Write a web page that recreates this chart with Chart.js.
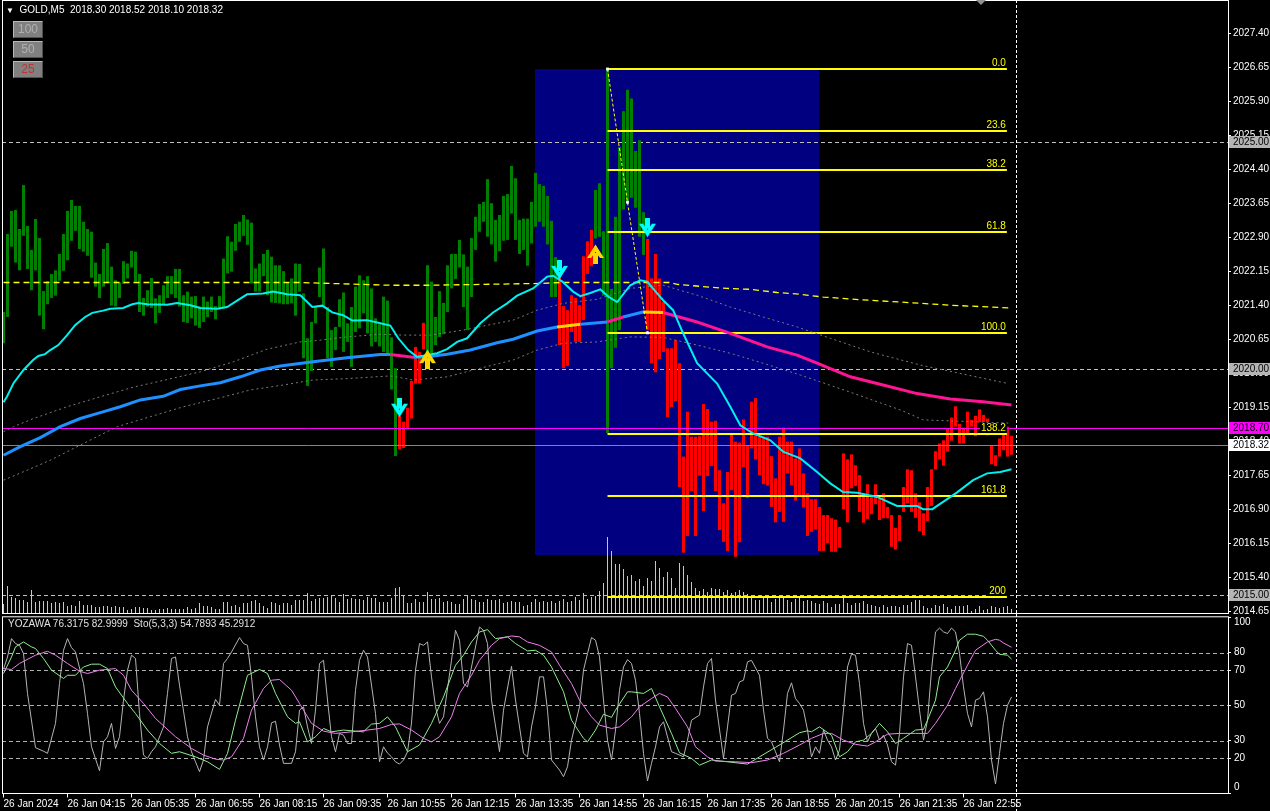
<!DOCTYPE html>
<html><head><meta charset="utf-8">
<script src="https://cdn.jsdelivr.net/npm/chart.js@4.4.1/dist/chart.umd.min.js"></script>
<style>
html,body{margin:0;padding:0;background:#000;}
body{width:1270px;height:811px;position:relative;overflow:hidden;font-family:"Liberation Sans",Arial,sans-serif;}
canvas{position:absolute;left:0;}
#main{top:0}
#sub{top:614px}
.hdr{position:absolute;left:6px;top:4px;color:#fff;font-size:10px;white-space:pre;line-height:12px;}
.btn{position:absolute;left:13px;width:28px;height:15px;background:#808080;border-top:1px solid #b8b8b8;border-left:1px solid #b8b8b8;border-right:1px solid #505050;border-bottom:1px solid #505050;font-size:12px;text-align:center;line-height:15px;color:#b0b0b0;}
.sublbl{position:absolute;left:8px;top:618px;color:#e0e0e0;font-size:10px;white-space:pre;line-height:12px;}
.shift{position:absolute;left:976px;top:0;width:0;height:0;border-left:5px solid transparent;border-right:5px solid transparent;border-top:5px solid #909090;}
</style></head>
<body>
<canvas id="main" width="1270" height="614"></canvas>
<canvas id="sub" width="1270" height="197"></canvas>
<div class="hdr"><span style="font-size:8px">▼</span>  GOLD,M5  2018.30 2018.52 2018.10 2018.32</div>
<div class="btn" style="top:21px">100</div>
<div class="btn" style="top:41px">50</div>
<div class="btn" style="top:61px;color:#c83030">25</div>
<div class="shift"></div>
<div class="sublbl">YOZAWA 76.3175 82.9999  Sto(5,3,3) 54.7893 45.2912</div>
<script>
// ---------------- DATA ----------------
// bar index 0 = 26 Jan 02:55, 5-minute bars
const timeLabels = ['26 Jan 2024','26 Jan 04:15','26 Jan 05:35','26 Jan 06:55','26 Jan 08:15','26 Jan 09:35','26 Jan 10:55','26 Jan 12:15','26 Jan 13:35','26 Jan 14:55','26 Jan 16:15','26 Jan 17:35','26 Jan 18:55','26 Jan 20:15','26 Jan 21:35','26 Jan 22:55'];
const timeTickIdx = [0,16,32,48,64,80,96,112,128,144,160,176,192,208,224,240];
const priceTicks = [2014.65,2015.40,2016.15,2016.90,2017.65,2018.40,2019.15,2019.90,2020.65,2021.40,2022.15,2022.90,2023.65,2024.40,2025.15,2025.90,2026.65,2027.40];
const stochTicks = [0,20,30,50,70,80,100];
const stochLevels = [20,30,50,70,80];

const barHigh = [
2021.25,2022.97,2023.48,2023.50,2023.08,2024.05,2023.15,2022.62,2023.30,2022.88,
2021.71,2021.93,2022.09,2022.17,2022.53,2022.97,2023.48,2023.72,2023.59,2023.59,
2023.24,2023.08,2023.02,2022.34,2022.09,2022.64,2022.77,2022.25,2021.95,2021.90,
2022.37,2022.32,2022.60,2022.58,2022.09,2021.56,2021.73,2022.00,2021.55,2021.62,
2021.84,2022.04,2022.04,2022.20,2022.20,2021.62,2021.70,2021.59,2021.60,2021.37,
2021.59,2021.48,2021.59,2021.38,2021.60,2022.43,2022.92,2022.80,2023.19,2023.24,
2023.39,2023.29,2023.22,2022.21,2022.32,2022.53,2022.62,2022.47,2022.28,2022.28,
2022.15,2021.90,2021.99,2022.32,2022.31,2021.66,2020.67,2021.03,2021.36,2022.23,
2022.65,2021.36,2020.85,2020.92,2021.53,2021.68,2021.00,2021.36,2021.81,2022.06,
2021.95,2022.04,2021.77,2021.11,2020.98,2021.59,2021.50,2020.69,2020.01,2018.96,
2018.83,2019.14,2019.73,2020.48,2020.37,2021.01,2022.28,2021.92,2021.14,2021.71,
2021.45,2022.28,2022.53,2022.53,2022.84,2022.52,2022.25,2022.88,2023.35,2023.63,
2023.68,2024.18,2023.65,2023.28,2023.39,2023.81,2023.85,2024.47,2024.20,2023.28,
2023.31,2023.31,2023.68,2024.32,2024.07,2024.03,2023.81,2023.26,2022.46,2022.04,
2021.38,2021.29,2021.62,2021.56,2021.40,2022.48,2022.81,2023.06,2023.94,2024.09,
2023.03,2026.61,2021.76,2023.35,2024.89,2025.68,2026.15,2025.96,2024.80,2025.04,
2023.45,2022.86,2021.99,2022.53,2021.99,2021.47,2020.45,2020.45,2020.63,2020.12,
2018.06,2019.05,2018.50,2018.50,2018.51,2019.22,2019.11,2018.83,2018.85,2017.76,
2017.03,2017.72,2018.56,2018.39,2018.37,2018.88,2018.31,2019.27,2019.35,2018.50,
2018.50,2018.50,2018.07,2017.58,2018.50,2018.70,2018.39,2018.39,2018.02,2018.24,
2017.69,2017.25,2017.12,2017.12,2016.95,2016.77,2016.77,2016.70,2016.67,2016.51,
2018.13,2018.00,2018.11,2017.87,2017.65,2017.25,2017.45,2017.17,2017.45,2017.14,
2017.25,2016.95,2016.77,2016.49,2016.77,2017.39,2017.78,2017.76,2017.25,2017.05,
2016.81,2017.39,2017.78,2018.18,2018.35,2018.42,2018.68,2018.92,2019.17,2018.78,
2018.70,2019.05,2018.87,2018.96,2019.10,2018.98,2018.90,2018.31,2018.09,2018.46,
2018.55,2018.72,2018.52];
const barLow = [
2020.56,2021.14,2022.69,2022.34,2022.17,2022.93,2022.20,2021.73,2022.17,2021.17,
2020.87,2021.42,2021.56,2021.61,2021.94,2022.16,2022.39,2022.82,2023.04,2022.64,
2022.58,2022.49,2022.01,2021.81,2021.56,2021.81,2021.90,2021.39,2021.37,2021.56,
2021.87,2021.99,2022.23,2021.92,2021.25,2021.17,2021.37,2021.34,2021.00,2021.23,
2021.42,2021.56,2021.64,2021.56,2021.37,2021.03,2021.01,2021.11,2020.95,2020.90,
2021.03,2021.14,2021.25,2021.09,2021.31,2021.33,2022.10,2022.14,2022.60,2022.80,
2022.93,2022.73,2021.88,2021.70,2021.70,2022.04,2021.62,2021.46,2021.45,2021.44,
2021.42,2021.42,2021.44,2021.17,2021.70,2020.23,2019.62,2019.95,2021.00,2021.58,
2021.36,2020.23,2020.04,2020.41,2020.92,2020.37,2020.59,2020.04,2020.81,2020.89,
2021.22,2020.78,2020.49,2020.59,2020.49,2020.37,2020.34,2019.54,2018.07,2018.22,
2018.25,2018.66,2018.90,2019.67,2019.67,2020.43,2020.12,2020.34,2020.52,2020.70,
2020.76,2021.25,2021.77,2021.98,2022.23,2021.36,2020.85,2021.58,2022.62,2023.02,
2023.24,2022.91,2022.74,2022.36,2022.59,2022.82,2022.84,2023.42,2022.84,2022.53,
2022.62,2022.27,2022.76,2023.13,2023.24,2023.13,2022.74,2021.58,2021.58,2020.52,
2020.01,2020.06,2020.81,2020.59,2020.59,2021.07,2022.09,2022.26,2022.87,2022.91,
2021.61,2018.58,2020.01,2020.46,2020.85,2023.51,2023.68,2023.77,2023.55,2022.91,
2022.51,2020.85,2020.12,2019.92,2020.21,2020.37,2018.93,2019.15,2019.28,2017.39,
2015.94,2016.31,2017.30,2016.31,2017.64,2016.86,2017.63,2017.85,2017.30,2016.44,
2016.18,2015.98,2017.32,2015.85,2016.17,2017.83,2017.15,2018.24,2018.00,2017.65,
2017.45,2017.42,2016.95,2016.61,2016.84,2016.62,2017.69,2017.43,2017.09,2017.17,
2016.94,2016.31,2016.40,2016.45,2015.98,2015.98,2016.15,2015.96,2015.96,2016.05,
2016.90,2016.61,2017.36,2017.41,2016.84,2016.60,2016.68,2016.79,2017.01,2016.66,
2016.70,2016.70,2016.07,2016.01,2016.20,2016.84,2017.03,2016.84,2016.71,2016.42,
2016.33,2016.64,2016.97,2017.78,2018.00,2017.86,2018.17,2018.41,2018.72,2018.35,
2018.35,2018.57,2018.72,2018.51,2018.81,2018.79,2018.53,2017.89,2017.85,2018.06,
2018.20,2018.06,2018.10];
const downBarRanges = [[99,105],[139,147],[161,252]];
const tickVolume = [
9,27,16,15,13,13,11,23,11,12,12,12,10,11,10,11,7,8,7,12,
8,8,8,6,6,7,7,6,7,6,6,3,4,6,6,5,5,3,3,4,
4,5,4,4,4,4,6,4,5,10,7,7,6,4,4,11,11,7,8,6,
10,10,12,13,10,7,5,11,10,8,10,10,8,13,13,13,20,12,14,15,
15,16,17,15,11,19,14,15,14,14,13,16,15,15,11,11,11,15,25,26,
17,10,10,14,11,11,21,14,14,15,11,12,11,9,9,14,17,14,13,11,
11,14,13,13,14,10,
11,12,11,11,7,8,11,14,11,12,11,12,10,12,14,11,12,16,13,20,
14,16,17,22,30,76,62,49,49,44,37,38,32,34,27,35,32,52,45,36,
41,35,25,50,47,38,31,25,22,24,21,25,24,24,21,23,20,21,23,21,
19,16,13,13,16,15,11,14,15,16,13,11,14,15,12,13,12,10,9,12,
10,6,9,9,15,10,8,10,10,12,9,8,7,6,8,6,7,7,6,8,
8,11,13,13,7,5,5,8,7,9,6,4,7,7,7,8,2,4,7,3,
4,7,6,5,6,7,4];

const maFast = [[0,2019.26],[0.85,2019.38],[2.5,2019.68],[5,2019.97],[7.4,2020.19],[8.7,2020.28],[10.4,2020.32],[11.7,2020.41],[13.7,2020.52],[15.9,2020.74],[17.9,2020.96],[20.4,2021.14],[22.2,2021.23],[24.9,2021.28],[26.7,2021.32],[29.9,2021.34],[32.2,2021.42],[33.7,2021.45],[35.9,2021.42],[40.9,2021.41],[43.4,2021.45],[46.7,2021.40],[49.2,2021.34],[53.4,2021.32],[55.9,2021.36],[58.4,2021.50],[60.9,2021.64],[64.9,2021.66],[67.4,2021.70],[70.9,2021.64],[74.2,2021.62],[77.2,2021.36],[79.7,2021.39],[82.2,2021.24],[84.9,2021.18],[87.2,2021.06],[90.9,2021.07],[94.2,2021.00],[96.7,2020.95],[98.7,2020.67],[101.2,2020.41],[103.4,2020.26],[105.9,2020.30],[108.4,2020.34],[110.9,2020.43],[113.4,2020.59],[115.9,2020.67],[119.2,2021.00],[122.4,2021.24],[125.9,2021.44],[128.4,2021.61],[132.4,2021.77],[135.9,2022.03],[137.4,2022.05],[139.7,2021.92],[142.4,2021.70],[144.2,2021.60],[146.7,2021.67],[149.2,2021.75],[151.2,2021.59],[153.4,2021.47],[156.7,2021.84],[159.2,2021.95],[160.9,2021.92],[164.9,2021.51],[167.4,2021.29],[169.9,2020.78],[173.4,2020.12],[178.4,2019.67],[181.7,2019.16],[184.2,2018.75],[187.4,2018.57],[191.7,2018.42],[194.9,2018.17],[199.2,2018.02],[203.4,2017.72],[206.7,2017.47],[209.9,2017.28],[213.4,2017.26],[218.4,2017.17],[223.4,2016.97],[228.4,2016.97],[229.9,2016.90],[232.2,2016.90],[234.9,2017.06],[238.4,2017.27],[242.4,2017.54],[245.9,2017.69],[249.2,2017.72],[252,2017.78]];
const maSlow = [[0,2018.09],[4.2,2018.28],[9.2,2018.48],[14.2,2018.72],[19.2,2018.90],[24.2,2019.03],[29.2,2019.16],[34.2,2019.31],[39.9,2019.39],[44.2,2019.54],[49.2,2019.62],[54.2,2019.69],[59.2,2019.82],[64.2,2019.97],[69.2,2020.06],[77.4,2020.15],[85.9,2020.24],[94.2,2020.31],[96.7,2020.31],[102.4,2020.25],[105.9,2020.26],[110.9,2020.32],[116.7,2020.41],[123.4,2020.57],[127.4,2020.65],[133.4,2020.83],[138.4,2020.92],[144.2,2020.98],[150.9,2021.03],[154.9,2021.14],[159.9,2021.25],[164.9,2021.24],[173.4,2021.03],[181.7,2020.78],[190.9,2020.48],[198.4,2020.30],[203.4,2020.12],[211.7,2019.82],[219.9,2019.64],[228.4,2019.45],[236.7,2019.33],[244.9,2019.27],[252,2019.20]];
const maSlowPhases = [[96.7,102.4,'down'],[138.4,144.2,'flat'],[150.9,154.9,'down'],[159.9,164.9,'flat'],[164.9,999,'down']];
const maLong = [[0,2021.90],[74,2021.90],[96.7,2021.84],[106.7,2021.84],[134.2,2021.88],[139,2021.90],[166.7,2021.90],[168.4,2021.86],[174.9,2021.81],[180.9,2021.77],[186.7,2021.75],[193.4,2021.68],[199.2,2021.64],[204.9,2021.58],[214.2,2021.52],[224.2,2021.47],[236.7,2021.40],[251.2,2021.34]];
const envUpper = [[0,2018.61],[2.5,2018.72],[7.5,2018.90],[15.9,2019.16],[24.2,2019.38],[32.4,2019.59],[40.9,2019.76],[49.2,2019.93],[57.4,2020.15],[65.9,2020.43],[74.2,2020.59],[77.4,2020.61],[85.9,2020.70],[94.2,2020.76],[99.9,2020.74],[106.7,2020.74],[114.9,2020.85],[127.4,2021.07],[133.4,2021.29],[139.9,2021.44],[148.4,2021.53],[156.7,2021.77],[164.9,2021.84],[173.4,2021.62],[181.7,2021.36],[189.9,2021.14],[198.4,2020.92],[206.7,2020.67],[216.7,2020.37],[229.2,2020.08],[251.2,2019.67]];
const envLower = [[0,2017.54],[5.9,2017.76],[11.7,2017.98],[20,2018.35],[28.4,2018.72],[36.7,2018.94],[45,2019.16],[53.4,2019.34],[61.7,2019.53],[70,2019.64],[77.4,2019.75],[85.9,2019.78],[96.7,2019.84],[102.4,2019.75],[110.9,2019.82],[119.2,2020.01],[127.4,2020.19],[133.4,2020.41],[139.9,2020.56],[148.4,2020.59],[156.7,2020.70],[164.9,2020.69],[173.4,2020.52],[181.7,2020.34],[189.9,2020.12],[199.2,2019.86],[211.7,2019.48],[224.2,2019.09],[229.9,2018.87],[251.2,2018.80]];

const arrowsDown = [[99,2019.14],[139,2022.18],[161,2023.11]];
const arrowsUp = [[106,2020.21],[148,2022.53]];

const fibLevels = [0,23.6,38.2,61.8,100,138.2,161.8,200];
const fibLabels = ['0.0','23.6','38.2','61.8','100.0','138.2','161.8','200'];
const fibHigh = 2026.61, fibLow = 2020.79;
const fibSpan = [151, 250.85];
const zigzag = [[151,2026.61],[156,2023.67],[161,2020.79]];
const zoneSpan = [132.875, 203.875];
const zonePrice = [2015.88, 2026.61];
const roundLevels = [2025.00, 2020.00, 2015.00];
const lastClose = 2018.32;
const alertLevel = 2018.70;
const separatorIdx = 253;

const stochMain = [[0,70.6],[1,77.5],[2,87.9],[3,85.1],[4,84.1],[5,79.4],[6,56.8],[8,26],[10,24],[11,22.8],[13,39.8],[14,62.4],[15,81.3],[16,87.9],[17,82.8],[18,80.3],[20,62.4],[21,45.4],[22,26.5],[24,12.9],[25,29.3],[26,32.2],[27,39.8],[28,25.6],[29,32.2],[30,53],[31,70],[32,78.5],[33,76.6],[34,45.4],[35,21.8],[36,19.9],[37,23.7],[38,26.5],[40,37.8],[41,56.8],[42,76.6],[43,77.5],[44,61.5],[46,32.2],[47,23.7],[48,18],[49,12.4],[50,19],[51,37.8],[53,53.4],[54,50.1],[55,73.8],[56,76.6],[57,80.3],[59,88.5],[60,85.1],[61,84.1],[62,66.2],[63,43.5],[64,26.5],[65,19],[66,26.5],[67,40.1],[68,41],[69,27.5],[70,17.1],[72,17.1],[73,23.7],[74,47.3],[75,49.2],[76,37.8],[77,28.4],[78,47.3],[79,73.8],[80,75.6],[81,53],[82,32.2],[83,23.7],[84,34.1],[85,33.1],[86,28.4],[87,28.4],[88,58.6],[89,75.6],[90,81.3],[91,77.5],[93,45.4],[94,18],[95,26.5],[96,23],[97,20.8],[98,18],[99,16.7],[100,19],[101,23.7],[102,40],[103,70],[104,85.1],[105,84.1],[106,86],[107,66.2],[108,49.2],[109,39.8],[110,43.5],[112,75.6],[113,92.6],[114,87],[115,62.4],[116,60.5],[117,71.8],[119,94.5],[120,92.6],[121,85.1],[122,53],[124,23.7],[125,47.3],[127,72.2],[128,53],[130,22.8],[131,20.8],[132,37.8],[133,49.2],[134,66.2],[135,66.2],[136,47.3],[137,19],[139,13.3],[140,9.5],[141,15.2],[142,30.3],[144,49.2],[145,70],[146,79.4],[147,88.5],[148,87],[149,77.5],[150,53],[151,30.3],[152,19],[153,36],[154,58.6],[155,71.8],[156,76],[157,73.8],[158,64.3],[159,45.4],[160,22.8],[161,7.1],[162,17.1],[163,26.5],[164,37.8],[165,40.7],[167,23.7],[168,22.8],[170,20.8],[171,30.3],[172,41.6],[174,44.5],[175,60.5],[176,73.8],[177,76.6],[178,53],[180,19.9],[181,37.8],[182,55.8],[183,56.8],[184,63.3],[185,64.3],[186,74.7],[187,75.6],[189,67.1],[190,47.3],[191,31.3],[192,29.3],[193,23.7],[194,18],[195,36],[196,56.8],[197,62.8],[198,53.9],[199,51.1],[200,47.3],[201,36],[202,20.8],[203,26.5],[204,22.8],[205,36],[206,30.3],[207,26.5],[208,19],[209,24.6],[210,47.3],[211,71.8],[212,79],[213,78.5],[214,62.4],[215,39.8],[216,29.3],[217,34.1],[218,36.9],[219,30.3],[220,33.1],[221,27.5],[222,18],[223,16.1],[224,34.1],[225,66.2],[226,85.1],[227,84.1],[228,66.2],[229,47.3],[230,30.3],[231,41.6],[232,70],[233,91.7],[234,93.9],[235,91.7],[236,90.8],[237,93.9],[238,91.7],[239,79.4],[240,60.5],[241,45.4],[242,37.8],[243,53],[244,53.9],[245,57.7],[246,43.5],[247,19],[248,5.4],[249,22.8],[250,39.8],[251,50.1],[252,54.8]];
const yozawaFast = [[0,68.1],[2,77.5],[3,83.2],[5,86],[7,83.2],[8,82.3],[10,76.6],[12,70],[15,65.3],[16,67.1],[18,67.1],[20,71.8],[22,73.4],[24,73.4],[26,70.9],[28,60.5],[31,51.1],[33,45.4],[36,36],[39,28.4],[42,22.8],[44,23.7],[48,20.8],[51,18],[54,13.7],[56,22.8],[58,41.6],[61,67.1],[64,70.4],[66,68.1],[68,56.8],[71,43.5],[73,39.8],[74,40.7],[76,29.3],[78,32.2],[80,36.9],[82,35],[85,36],[90,35],[92,39.4],[94,39.8],[96,43.5],[98,37.8],[101,23.7],[104,27.5],[107,39.8],[110,54.8],[113,72.8],[115,78.5],[117,86],[119,91.7],[121,93],[123,87.9],[126,88.9],[128,85.1],[131,80.9],[133,81.3],[135,78.5],[137,71.8],[140,57.7],[142,41.6],[145,31.3],[146,29.3],[148,36],[150,45],[152,43.2],[153,47.3],[156,57.7],[157,57.7],[160,56.8],[162,59.6],[164,49.2],[167,34.1],[169,23.1],[172,19.9],[174,16.1],[177,19],[181,18],[186,16.7],[189,20.8],[193,26.2],[196,30.3],[199,34.5],[201,35.6],[202,35],[204,37.8],[207,33.1],[209,20.8],[211,23.7],[213,29.3],[215,30.3],[217,34.1],[219,39.8],[221,35],[223,28.4],[225,31.3],[228,36],[230,36.4],[231,41.6],[233,53],[234,66.2],[236,71.8],[238,81.3],[239,87],[241,90.4],[243,90.4],[245,89.2],[246,87],[248,81.3],[249,79],[251,78.5],[252,76.3]];
const yozawaSlow = [[0,70.9],[2,70.4],[4,73.8],[8,78.5],[11,80.7],[13,78.5],[16,73.8],[19,69.4],[21,68.1],[24,70],[28,70.9],[30,67.1],[32,58.6],[35,51.1],[38,42.6],[43,32.2],[47,25.6],[50,21.8],[53,19.5],[55,19],[57,20.8],[60,31.3],[62,47.3],[65,59.6],[67,64.3],[69,64.7],[72,58.6],[74,51.1],[77,39.8],[80,35.4],[83,34.1],[87,35],[91,36],[94,36.9],[97,39.2],[99,39.5],[102,36],[105,31.3],[107,29.3],[109,32.2],[112,43.5],[114,56.8],[117,67.1],[119,75.6],[122,84.1],[124,87.9],[127,89.4],[129,88.9],[131,86],[134,84.1],[137,80.3],[139,72.8],[142,62.4],[144,53],[147,43.5],[149,38.8],[152,36.9],[154,37.8],[157,43.5],[159,49.2],[162,53.9],[164,56.8],[166,54.8],[168,48.3],[171,37.8],[173,26.5],[176,20.8],[178,18.4],[183,18],[187,17.5],[191,19],[195,22.8],[199,27.5],[202,31.3],[205,34.1],[207,34.1],[210,30.3],[213,27.9],[216,26.9],[218,29.3],[221,33.7],[224,34.1],[228,34.1],[231,34.1],[233,39.8],[236,50.1],[238,59.6],[241,72.8],[243,81.3],[246,86],[248,87.5],[249,87],[250,85.4],[252,83.0]];

// ---------------- RENDER ----------------
const FONT = '"Liberation Sans", Arial, sans-serif';
Chart.defaults.font.family = FONT;
Chart.defaults.font.size = 10;
Chart.defaults.color = '#ffffff';

const X_MIN = -0.375, X_MAX = -0.375 + 1226/4;
const pairs = a => a.map(p => ({x:p[0], y:p[1]}));
const isDown = i => downBarRanges.some(r => i >= r[0] && i <= r[1]);
const noPad = s => { s.paddingTop = 0; s.paddingBottom = 0; s.paddingLeft = 0; s.paddingRight = 0; };

function makeArrow(color, up){
  const c = document.createElement('canvas'); c.width = 17; c.height = 20;
  const g = c.getContext('2d');
  if (up){ g.translate(0,20); g.scale(1,-1); }
  g.fillStyle = color;
  g.fillRect(6,0,5,11);
  g.beginPath(); g.moveTo(0,6); g.lineTo(4,6); g.lineTo(8.5,12); g.lineTo(13,6); g.lineTo(17,6); g.lineTo(8.5,19.5); g.closePath(); g.fill();
  return c;
}

function slowColor(x){
  for (const p of maSlowPhases){ if (x >= p[0]-0.01 && x < p[1]-0.01) return p[2]==='down' ? '#ff1493' : '#ffd700'; }
  return '#1e90ff';
}

function hline(ctx, x1, x2, y){ ctx.beginPath(); ctx.moveTo(x1,y); ctx.lineTo(x2,y); ctx.stroke(); }

const mainOverlay = {
  id:'mainOverlay',
  beforeDatasetsDraw(chart){
    const {ctx, chartArea:a, scales:{x,y}} = chart;
    ctx.save();
    ctx.beginPath(); ctx.rect(a.left,a.top,a.right-a.left,a.bottom-a.top); ctx.clip();
    const x1 = x.getPixelForValue(zoneSpan[0]), x2 = x.getPixelForValue(zoneSpan[1]);
    const y1 = y.getPixelForValue(zonePrice[1]), y2 = y.getPixelForValue(zonePrice[0]);
    ctx.fillStyle = '#000080'; ctx.fillRect(Math.round(x1), Math.round(y1), Math.round(x2-x1), Math.round(y2-y1));
    ctx.strokeStyle = '#c0c0c0'; ctx.lineWidth = 1; ctx.setLineDash([4,3]);
    roundLevels.forEach(v => hline(ctx, a.left, a.right, Math.round(y.getPixelForValue(v))+0.5));
    ctx.restore();
  },
  afterDatasetDraw(chart, args){
    if (args.index !== 1) return;
    const {ctx, chartArea:a, scales:{x,y}} = chart;
    ctx.save();
    ctx.beginPath(); ctx.rect(a.left,a.top,a.right-a.left,a.bottom-a.top); ctx.clip();
    ctx.setLineDash([]); ctx.lineWidth = 1;
    ctx.strokeStyle = '#ff00ff'; hline(ctx, a.left, a.right, Math.round(y.getPixelForValue(alertLevel))+0.5);
    ctx.strokeStyle = '#778899'; hline(ctx, a.left, a.right, Math.round(y.getPixelForValue(lastClose))+0.5);
    const fx1 = x.getPixelForValue(fibSpan[0]), fx2 = x.getPixelForValue(fibSpan[1]);
    ctx.font = '10px ' + FONT;
    fibLevels.forEach((lv, k) => {
      const p = fibHigh - (fibHigh - fibLow) * lv / 100;
      const py = Math.round(y.getPixelForValue(p));
      ctx.strokeStyle = '#ffff00'; ctx.lineWidth = 2;
      hline(ctx, fx1, fx2, py);
      const t = fibLabels[k]; const w = ctx.measureText(t).width;
      ctx.fillStyle = '#000'; ctx.fillRect(fx2 - w - 2, py - 12, w + 2, 11);
      ctx.fillStyle = '#ffff00'; ctx.textAlign = 'right'; ctx.textBaseline = 'alphabetic';
      ctx.fillText(t, fx2 - 1, py - 3);
    });
    ctx.restore();
  },
  afterDraw(chart){
    const {ctx, chartArea:a, scales:{x,y}} = chart;
    ctx.save();
    ctx.strokeStyle = '#ffffff'; ctx.lineWidth = 1; ctx.setLineDash([]);
    ctx.strokeRect(a.left+0.5, a.top-0.5, a.right-a.left, a.bottom-a.top+1);
    const vx = Math.round(x.getPixelForValue(separatorIdx))+0.5;
    ctx.setLineDash([3,2]); ctx.beginPath(); ctx.moveTo(vx,0); ctx.lineTo(vx,chart.height); ctx.stroke();
    ctx.setLineDash([]);
    ctx.font = '10px ' + FONT; ctx.textAlign = 'left'; ctx.textBaseline = 'middle';
    const boxes = [[roundLevels[0],'#b4b4b4'],[roundLevels[1],'#b4b4b4'],[alertLevel,'#ff00ff'],[lastClose,'#ffffff'],[roundLevels[2],'#b4b4b4']];
    boxes.forEach(b => {
      const py = Math.round(y.getPixelForValue(b[0]));
      ctx.fillStyle = b[1]; ctx.fillRect(a.right+1, py-6, 42, 12);
      ctx.fillStyle = '#000'; ctx.fillText(b[0].toFixed(2), a.right+5, py+0.5);
    });
    ctx.restore();
  }
};

const mainChart = new Chart(document.getElementById('main'), {
  type:'bar',
  data:{datasets:[
    {type:'bar', label:'volume', yAxisID:'vol', data: tickVolume.map((v,i)=>({x:i,y:v})), backgroundColor:'#90ee90', grouped:false, maxBarThickness:1, barPercentage:1, categoryPercentage:1, borderWidth:0, inflateAmount:0, order:10},
    {type:'bar', label:'GOLD', yAxisID:'y', data: barHigh.map((h,i)=>({x:i,y:[barLow[i],h]})), backgroundColor: barHigh.map((h,i)=> isDown(i) ? '#ff0000' : '#008000'), grouped:false, maxBarThickness:3, barPercentage:1, categoryPercentage:1, borderWidth:0, borderSkipped:false, inflateAmount:0, order:9},
    {type:'line', yAxisID:'y', data:pairs(envUpper), borderColor:'#7a7a7a', borderWidth:1, borderDash:[2,3], pointRadius:0, order:8},
    {type:'line', yAxisID:'y', data:pairs(envLower), borderColor:'#7a7a7a', borderWidth:1, borderDash:[2,3], pointRadius:0, order:8},
    {type:'line', yAxisID:'y', data:pairs(maLong), borderColor:'#ffff00', borderWidth:1.3, borderDash:[6,4], pointRadius:0, order:7},
    {type:'line', yAxisID:'y', data:pairs(maSlow), borderColor:'#1e90ff', borderWidth:3, pointRadius:0, order:6, segment:{borderColor: c => slowColor(c.p0.parsed.x)}},
    {type:'line', yAxisID:'y', data:pairs(maFast), borderColor:'#00f0f0', borderWidth:2, pointRadius:0, order:5},
    {type:'line', yAxisID:'y', data:pairs(zigzag), borderColor:'#ffff00', borderWidth:1, borderDash:[3,2], pointRadius:2, pointStyle:'rect', pointBackgroundColor:'#ffffff', pointBorderWidth:0, order:4},
    {type:'scatter', yAxisID:'y', data:pairs(arrowsDown), pointStyle:makeArrow('#00ffff', false), order:2},
    {type:'scatter', yAxisID:'y', data:pairs(arrowsUp), pointStyle:makeArrow('#ffd700', true), order:2}
  ]},
  options:{
    responsive:false, animation:false, devicePixelRatio:1,
    events:[],
    layout:{autoPadding:false, padding:{left:2, top:1, right:0, bottom:1}},
    plugins:{legend:{display:false}, tooltip:{enabled:false}},
    scales:{
      x:{type:'linear', min:X_MIN, max:X_MAX, display:false, offset:false, ticks:{display:false}, afterFit:noPad},
      y:{type:'linear', position:'right', min:2014.61, max:2028.11,
         afterBuildTicks: s => { s.ticks = priceTicks.map(v=>({value:v})); },
         afterFit: s => { s.width = 42; noPad(s); },
         ticks:{color:'#ffffff', padding:2, autoSkip:false, callback: v => Number(v).toFixed(2), font:{size:10}},
         grid:{drawOnChartArea:false, drawTicks:true, tickLength:3, color:'#ffffff'},
         border:{display:true, color:'#ffffff'}},
      vol:{type:'linear', display:false, min:0, max:612, ticks:{display:false}, afterFit:noPad}
    }
  },
  plugins:[mainOverlay]
});

const subOverlay = {
  id:'subOverlay',
  beforeDatasetsDraw(chart){
    const {ctx, chartArea:a, scales:{y}} = chart;
    ctx.save();
    ctx.strokeStyle = '#b0b0b0'; ctx.lineWidth = 1; ctx.setLineDash([4,3]);
    stochLevels.forEach(v => hline(ctx, a.left, a.right, Math.round(y.getPixelForValue(v))+0.5));
    ctx.restore();
  },
  afterDraw(chart){
    const {ctx, chartArea:a, scales:{x,y}} = chart;
    ctx.save();
    ctx.strokeStyle = '#ffffff'; ctx.lineWidth = 1; ctx.setLineDash([]);
    ctx.strokeRect(a.left+0.5, a.top-0.5, a.right-a.left, a.bottom-a.top+0.5);
    const vx = Math.round(x.getPixelForValue(separatorIdx))+0.5;
    ctx.setLineDash([3,2]); ctx.beginPath(); ctx.moveTo(vx,0); ctx.lineTo(vx,chart.height); ctx.stroke();
    ctx.setLineDash([]);
    ctx.fillStyle = '#ffffff'; ctx.font = '10px ' + FONT; ctx.textAlign = 'left'; ctx.textBaseline = 'middle';
    stochTicks.forEach(v => {
      let py = y.getPixelForValue(v);
      if (v === 100) py += 5; if (v === 0) py -= 6;
      ctx.fillText(String(v), a.right + 6, py);
    });
    ctx.restore();
  }
};

const subChart = new Chart(document.getElementById('sub'), {
  type:'line',
  data:{datasets:[
    {data:pairs(stochMain), borderColor:'#b4b4b4', borderWidth:1, pointRadius:0, order:3},
    {data:pairs(yozawaFast), borderColor:'#90ee90', borderWidth:1, pointRadius:0, order:2},
    {data:pairs(yozawaSlow), borderColor:'#ee82ee', borderWidth:1, pointRadius:0, order:1}
  ]},
  options:{
    responsive:false, animation:false, devicePixelRatio:1,
    events:[],
    layout:{autoPadding:false, padding:{left:2, top:3.3, right:0, bottom:0}},
    plugins:{legend:{display:false}, tooltip:{enabled:false}},
    scales:{
      x:{type:'linear', min:X_MIN, max:X_MAX, position:'bottom', offset:false,
         afterBuildTicks: s => { s.ticks = timeTickIdx.map(v=>({value:v})); },
         afterFit: s => { s.height = 17.5; noPad(s); },
         ticks:{color:'#ffffff', align:'start', padding:1, maxRotation:0, autoSkip:false, callback:(v,i)=>timeLabels[i], font:{size:10}},
         grid:{drawOnChartArea:false, drawTicks:true, tickLength:4, color:'#ffffff'},
         border:{display:true, color:'#ffffff'}},
      y:{type:'linear', position:'right', min:0, max:100,
         afterBuildTicks: s => { s.ticks = stochTicks.map(v=>({value:v})); },
         afterFit: s => { s.width = 42; noPad(s); },
         ticks:{display:false},
         grid:{drawOnChartArea:false, drawTicks:true, tickLength:3, color:'#ffffff'},
         border:{display:true, color:'#ffffff'}}
    }
  },
  plugins:[subOverlay]
});
</script>
</body></html>
